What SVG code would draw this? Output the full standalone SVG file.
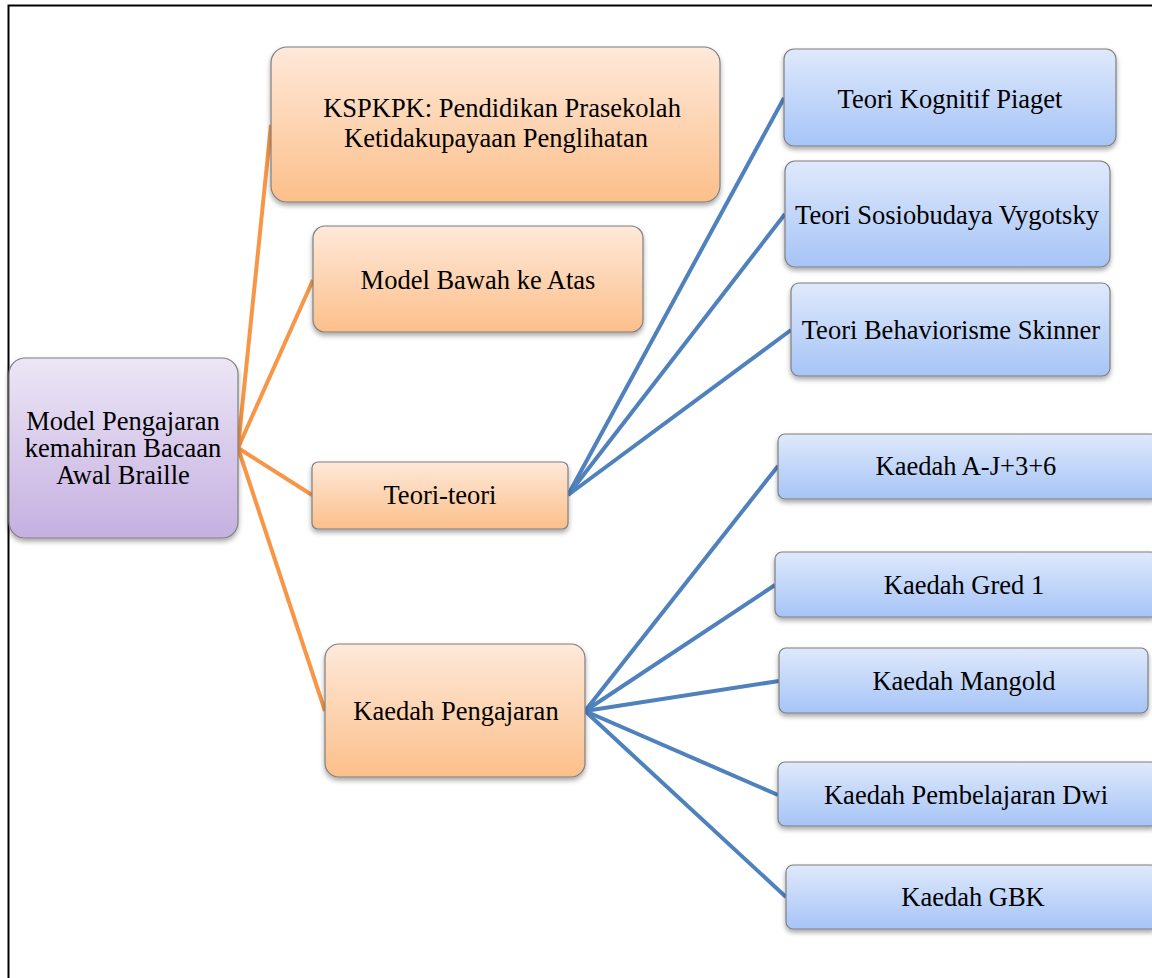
<svg xmlns="http://www.w3.org/2000/svg" width="1152" height="978" viewBox="0 0 1152 978">
<defs>
<linearGradient id="gPurple" x1="0" y1="0" x2="0" y2="1">
<stop offset="0" stop-color="#ece6f6"/><stop offset="1" stop-color="#c5b0e0"/>
</linearGradient>
<linearGradient id="gOrange" x1="0" y1="0" x2="0" y2="1">
<stop offset="0" stop-color="#fee9da"/><stop offset="1" stop-color="#fcbf8a"/>
</linearGradient>
<linearGradient id="gBlue" x1="0" y1="0" x2="0" y2="1">
<stop offset="0" stop-color="#dfe9fb"/><stop offset="1" stop-color="#a6c4f7"/>
</linearGradient>
<filter id="sh" x="-10%" y="-10%" width="120%" height="130%">
<feDropShadow dx="0" dy="3" stdDeviation="2.5" flood-color="#000" flood-opacity="0.35"/>
</filter>
</defs>
<style>
.box{stroke:#7f7f7f;stroke-width:1.2;filter:url(#sh)}
.p{fill:url(#gPurple)}
.o{fill:url(#gOrange)}
.b{fill:url(#gBlue)}
text{font-family:"Liberation Serif","Times New Roman",serif;font-size:26.5px;fill:#000;text-anchor:middle;dominant-baseline:central}
.co{stroke:#f79646;stroke-width:4;fill:none}
.cb{stroke:#4f81bd;stroke-width:4;fill:none}
</style>
<rect width="1152" height="978" fill="#fff"/>
<path d="M8.5 978 V5.5 H1152" fill="none" stroke="#000" stroke-width="2"/>
<g id="connectors">
<line class="co" x1="238" y1="448" x2="271" y2="125"/>
<line class="co" x1="238" y1="448" x2="313" y2="280"/>
<line class="co" x1="238" y1="448" x2="312" y2="495"/>
<line class="co" x1="238" y1="448" x2="325" y2="711"/>
<line class="cb" x1="568" y1="495" x2="784" y2="98"/>
<line class="cb" x1="568" y1="495" x2="785" y2="214"/>
<line class="cb" x1="568" y1="495" x2="791" y2="330"/>
<line class="cb" x1="585" y1="711" x2="778" y2="466"/>
<line class="cb" x1="585" y1="711" x2="775" y2="585"/>
<line class="cb" x1="585" y1="711" x2="779" y2="681"/>
<line class="cb" x1="585" y1="711" x2="778" y2="795"/>
<line class="cb" x1="585" y1="711" x2="786" y2="897"/>
</g>
<g id="root">
<rect class="box p" x="9" y="358" width="229" height="180" rx="16"/>
<text x="123" y="421">Model Pengajaran</text>
<text x="123" y="448">kemahiran Bacaan</text>
<text x="123" y="475">Awal Braille</text>
</g>
<g id="kspkpk">
<rect class="box o" x="271" y="47" width="449" height="155" rx="16"/>
<text x="502" y="108">KSPKPK: Pendidikan Prasekolah</text>
<text x="496" y="138">Ketidakupayaan Penglihatan</text>
</g>
<g id="model-bawah">
<rect class="box o" x="313" y="226" width="330" height="106" rx="12"/>
<text x="478" y="280">Model Bawah ke Atas</text>
</g>
<g id="teori-teori">
<rect class="box o" x="312" y="462" width="256" height="67" rx="6"/>
<text x="440" y="495">Teori-teori</text>
</g>
<g id="kaedah-pengajaran">
<rect class="box o" x="325" y="644" width="260" height="133" rx="14"/>
<text x="456" y="711">Kaedah Pengajaran</text>
</g>
<g id="teori-kognitif">
<rect class="box b" x="784" y="49" width="332" height="97" rx="10"/>
<text x="950" y="99">Teori Kognitif Piaget</text>
</g>
<g id="teori-sosiobudaya">
<rect class="box b" x="785" y="161" width="325" height="106" rx="10"/>
<text x="947" y="215">Teori Sosiobudaya  Vygotsky</text>
</g>
<g id="teori-behaviorisme">
<rect class="box b" x="791" y="283" width="319" height="93" rx="8"/>
<text x="951" y="330">Teori Behaviorisme Skinner</text>
</g>
<g id="kaedah-aj">
<rect class="box b" x="778" y="434" width="380" height="65" rx="7"/>
<text x="966" y="466">Kaedah A-J+3+6</text>
</g>
<g id="kaedah-gred">
<rect class="box b" x="775" y="552" width="383" height="65" rx="7"/>
<text x="964" y="585">Kaedah Gred 1</text>
</g>
<g id="kaedah-mangold">
<rect class="box b" x="779" y="648" width="369" height="65" rx="7"/>
<text x="964" y="681">Kaedah Mangold</text>
</g>
<g id="kaedah-dwi">
<rect class="box b" x="778" y="762" width="380" height="64" rx="7"/>
<text x="966" y="795">Kaedah Pembelajaran Dwi</text>
</g>
<g id="kaedah-gbk">
<rect class="box b" x="786" y="865" width="372" height="64" rx="7"/>
<text x="973" y="897">Kaedah GBK</text>
</g>
</svg>
